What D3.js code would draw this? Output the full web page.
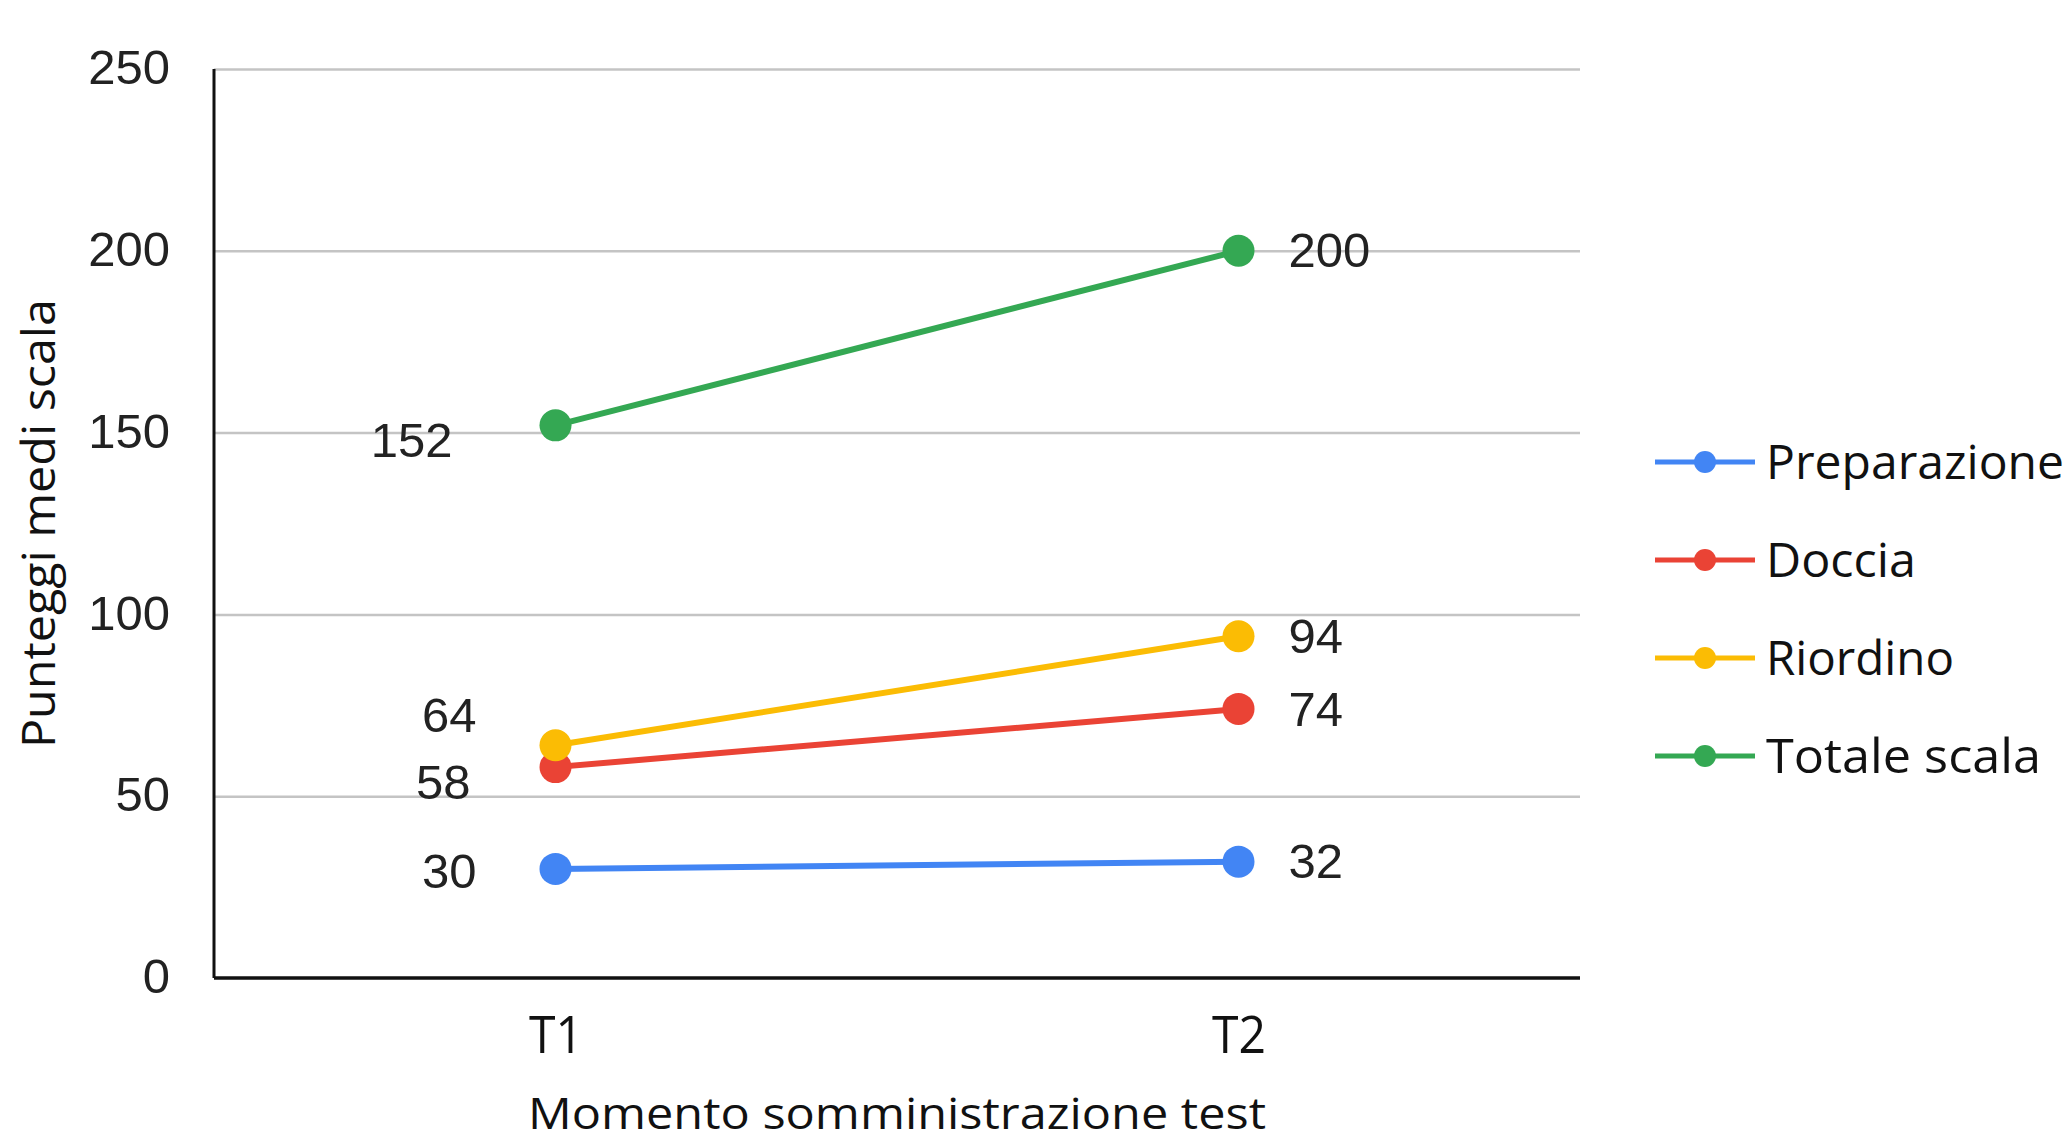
<!DOCTYPE html>
<html>
<head>
<meta charset="utf-8">
<script src="https://cdn.jsdelivr.net/npm/d3@7"></script>
<style>
  html, body { margin: 0; padding: 0; background: #ffffff; }
  svg { display: block; }
</style>
</head>
<body>
<script>
// ---- data ----
const categories = ["T1", "T2"];
const seriesNames = ["Preparazione", "Doccia", "Riordino", "Totale scala"];
const preparazione = [30, 32];
const doccia = [58, 74];
const riordino = [64, 94];
const totaleScala = [152, 200];
const yTicks = [0, 50, 100, 150, 200, 250];
const xTitle = "Momento somministrazione test";
const yTitle = "Punteggi medi scala";

const colors = ["#4285F4", "#EA4335", "#FBBC04", "#34A853"];
const seriesValues = [preparazione, doccia, riordino, totaleScala];

const W = 2070, H = 1141;
const plot = { left: 214, right: 1580, top: 69, bottom: 978 };

const svg = d3.select("body").append("svg").attr("width", W).attr("height", H);

const x = d3.scalePoint().domain(categories).range([plot.left, plot.right]).padding(0.5);
const y = d3.scaleLinear().domain([0, 250]).range([plot.bottom, plot.top]);

// gridlines
const grid = svg.append("g").attr("transform", `translate(${plot.left},0)`)
  .call(d3.axisLeft(y).tickValues(yTicks.filter(v => v > 0)).tickSize(-(plot.right - plot.left)).tickFormat(""));
grid.select(".domain").remove();
grid.selectAll("line").attr("stroke", "#c4c4c4").attr("stroke-width", 2.5);

// y tick labels
const yAxis = svg.append("g").attr("transform", `translate(${plot.left},0)`)
  .call(d3.axisLeft(y).tickValues(yTicks).tickSize(0).tickPadding(44));
yAxis.select(".domain").remove();
yAxis.selectAll("text")
  .attr("font-family", "'Liberation Sans', Arial, sans-serif")
  .attr("font-size", 49).attr("fill", "#222").attr("dy", "0.30em");

// axis lines
svg.append("line").attr("x1", plot.left).attr("x2", plot.left)
  .attr("y1", plot.top).attr("y2", plot.bottom).attr("stroke", "#111").attr("stroke-width", 3);
svg.append("line").attr("x1", plot.left).attr("x2", plot.right)
  .attr("y1", plot.bottom).attr("y2", plot.bottom).attr("stroke", "#111").attr("stroke-width", 3.5);

// x tick labels
const xAxis = svg.append("g").attr("transform", `translate(0,${plot.bottom})`)
  .call(d3.axisBottom(x).tickSize(0).tickPadding(0));
xAxis.select(".domain").remove();
xAxis.selectAll("text")
  .attr("font-family", "'Open Sans', 'Noto Sans', sans-serif")
  .attr("font-size", 52).attr("fill", "#111")
  .attr("dy", 0).attr("y", 75)
  .attr("textLength", 54).attr("lengthAdjust", "spacingAndGlyphs");

// axis titles
svg.append("text").attr("x", (plot.left + plot.right) / 2).attr("y", 1129)
  .attr("text-anchor", "middle")
  .attr("font-family", "'Open Sans', 'Noto Sans', sans-serif")
  .attr("font-size", 44).attr("fill", "#111")
  .attr("textLength", 738).attr("lengthAdjust", "spacingAndGlyphs")
  .text(xTitle);

svg.append("text")
  .attr("transform", `translate(55,${(plot.top + plot.bottom) / 2}) rotate(-90)`)
  .attr("text-anchor", "middle")
  .attr("font-family", "'Open Sans', 'Noto Sans', sans-serif")
  .attr("font-size", 46).attr("fill", "#111")
  .attr("textLength", 449).attr("lengthAdjust", "spacingAndGlyphs")
  .text(yTitle);

// lines and points
const line = d3.line().x((d, i) => x(categories[i])).y(d => y(d));
// annotation nudges at T1 (collision avoidance, as in the original): [dx, dy]
const t1Nudge = { "Preparazione": [0, 2], "Doccia": [-6, 15], "Riordino": [0, -30], "Totale scala": [-24, 15] };

seriesValues.forEach((vals, si) => {
  const g = svg.append("g");
  g.append("path").datum(vals).attr("d", line)
    .attr("fill", "none").attr("stroke", colors[si]).attr("stroke-width", 6);
  g.selectAll("circle").data(vals).join("circle")
    .attr("cx", (d, i) => x(categories[i])).attr("cy", d => y(d))
    .attr("r", 16).attr("fill", colors[si]);
  g.selectAll("text").data(vals).join("text")
    .attr("x", (d, i) => i === 0 ? x(categories[i]) - 79 + t1Nudge[seriesNames[si]][0] : x(categories[i]) + 50)
    .attr("y", (d, i) => y(d) + (i === 0 ? t1Nudge[seriesNames[si]][1] : 0))
    .attr("dy", "0.34em")
    .attr("text-anchor", (d, i) => i === 0 ? "end" : "start")
    .attr("font-family", "'Liberation Sans', Arial, sans-serif")
    .attr("font-size", 49).attr("fill", "#222")
    .text(d => d);
});

// legend
const legendLen = [298, 150, 188, 275];
const legend = svg.append("g");
seriesNames.forEach((name, i) => {
  const ly = 462 + i * 98;
  legend.append("line").attr("x1", 1655).attr("x2", 1755).attr("y1", ly).attr("y2", ly)
    .attr("stroke", colors[i]).attr("stroke-width", 5);
  legend.append("circle").attr("cx", 1705).attr("cy", ly).attr("r", 11).attr("fill", colors[i]);
  legend.append("text").attr("x", 1766).attr("y", ly + 17)
    .attr("font-family", "'Open Sans', 'Noto Sans', sans-serif")
    .attr("font-size", 47).attr("fill", "#111")
    .attr("textLength", legendLen[i]).attr("lengthAdjust", "spacingAndGlyphs")
    .text(name);
});
</script>
</body>
</html>
